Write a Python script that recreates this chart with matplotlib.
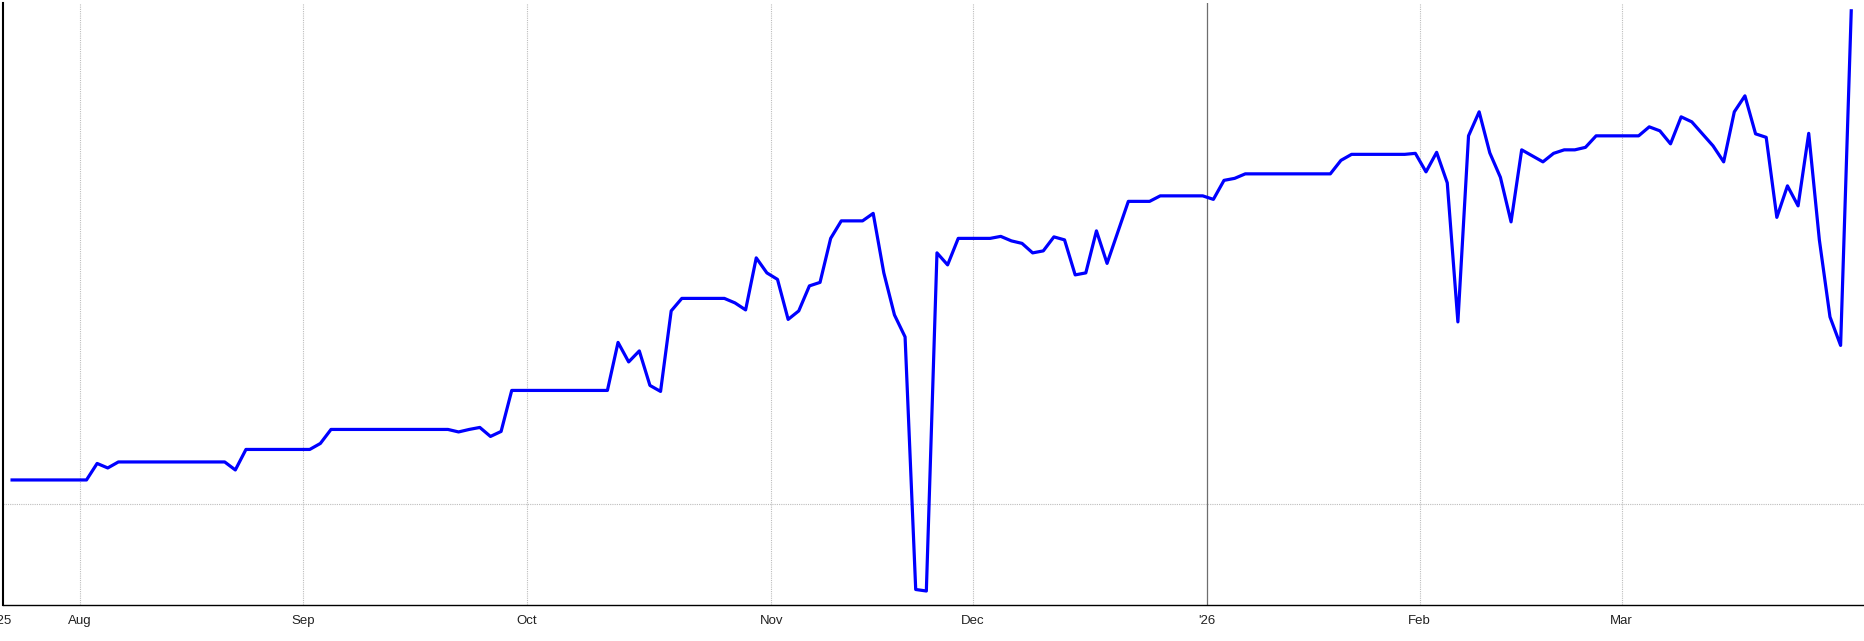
import matplotlib
matplotlib.use("Agg")
import matplotlib.pyplot as plt

# trading-day index of each vertex of the line (0 = first point, late Jul '25)
day = [0, 7, 8, 9, 10, 20, 21, 22, 28, 29, 30, 41, 42, 43, 44, 45, 46, 47, 56,
       57, 58, 59, 60, 61, 62, 63, 67, 68, 69, 70, 71, 72, 73, 74, 75, 76, 77,
       78, 80, 81, 82, 83, 84, 85, 86, 87, 88, 89, 92, 93, 94, 95, 96, 97, 98,
       99, 100, 101, 102, 103, 105, 107, 108, 112, 113, 114, 115, 116, 124,
       125, 126, 131, 132, 133, 134, 135, 136, 137, 138, 139, 140, 141, 142,
       143, 144, 145, 146, 147, 148, 149, 153, 154, 155, 156, 157, 158, 159,
       160, 161, 162, 163, 164, 165, 166, 167, 168, 169, 170, 171, 172, 173]
value = [4.9, 4.9, 8.2, 7.3, 8.5, 8.5, 6.9, 11.0, 11.0, 12.2, 15.0, 15.0, 14.5,
         15.0, 15.4, 13.6, 14.6, 22.8, 22.8, 32.4, 28.5, 30.7, 23.8, 22.6, 38.7,
         41.2, 41.2, 40.3, 38.9, 49.3, 46.3, 45.0, 37.0, 38.7, 43.7, 44.4, 53.2,
         56.7, 56.7, 58.2, 46.3, 37.9, 33.5, -17.0, -17.3, 50.3, 47.9, 53.2,
         53.2, 53.6, 52.7, 52.2, 50.3, 50.7, 53.5, 52.9, 45.9, 46.3, 54.7, 48.2,
         60.6, 60.6, 61.7, 61.7, 61.0, 64.8, 65.2, 66.1, 66.1, 68.8, 70.0, 70.0,
         70.2, 66.5, 70.4, 64.3, 36.5, 73.7, 78.5, 70.3, 65.4, 56.5, 70.9, 69.7,
         68.5, 70.2, 70.9, 70.9, 71.4, 73.7, 73.7, 75.5, 74.7, 72.1, 77.5, 76.5,
         74.1, 71.7, 68.5, 78.5, 81.7, 74.1, 73.4, 57.4, 63.7, 59.7, 74.2, 52.9,
         37.5, 31.8, 98.7]

# month boundaries on the same trading-day axis
month_pos = [6.4, 27.4, 48.4, 71.4, 90.4, 112.4, 132.4, 151.4]
month_lbl = ["Aug", "Sep", "Oct", "Nov", "Dec", "'26", "Feb", "Mar"]
year_pos = 112.4

X_LO, X_HI = -0.9, 174.2
Y_LO, Y_HI = -20.1, 100.2

plt.rcParams["font.family"] = ["Liberation Sans", "DejaVu Sans"]

fig = plt.figure(figsize=(18.64, 6.41), dpi=100)
ax = fig.add_axes([2.5 / 1864, 36 / 641, 1861.5 / 1864, 601.7 / 641])

# grid: dotted month lines, solid line at the year change
for pos in month_pos:
    if pos == year_pos:
        ax.axvline(pos, color="#6e6e6e", lw=0.9, zorder=1)
    else:
        ax.axvline(pos, color="#bdbdbd", lw=0.8, ls=(0, (1, 1)), zorder=1)
ax.axhline(0, color="#bdbdbd", lw=0.8, ls=(0, (1, 1)), zorder=1)

ax.plot(day, value, color="#0000ff", lw=2.3, zorder=3)

ax.set_xlim(X_LO, X_HI)
ax.set_ylim(Y_LO, Y_HI)

ax.set_xticks([X_LO] + month_pos)
ax.set_xticklabels(["'25"] + month_lbl)
ax.set_xticks([X_LO], minor=True)
ax.tick_params(axis="x", which="major", length=0, pad=7,
               labelsize=9.5, labelcolor="#222222")
ax.tick_params(axis="x", which="minor", length=7, width=1.5, color="black")
ax.set_yticks([])

for side in ("top", "right"):
    ax.spines[side].set_visible(False)
ax.spines["left"].set_linewidth(1.5)
ax.spines["bottom"].set_linewidth(1.0)

fig.savefig("out.png", dpi=100, facecolor="white")
